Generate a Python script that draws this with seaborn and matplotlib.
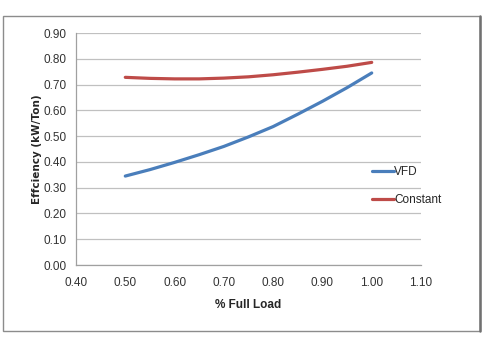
import matplotlib
matplotlib.use("Agg")
import matplotlib.pyplot as plt
import seaborn as sns
import pandas as pd
from matplotlib.patches import Rectangle
from matplotlib.lines import Line2D

load = [0.50, 0.55, 0.60, 0.65, 0.70, 0.75, 0.80, 0.85, 0.90, 0.95, 1.00]
vfd = [0.345, 0.370, 0.398, 0.428, 0.460, 0.497, 0.537, 0.585, 0.635, 0.688, 0.745]
constant = [0.728, 0.724, 0.722, 0.722, 0.725, 0.730, 0.738, 0.748, 0.759, 0.771, 0.786]
series_names = ["VFD", "Constant"]
colors = ["#4a7ebb", "#be4b48"]
x_ticks = [0.40, 0.50, 0.60, 0.70, 0.80, 0.90, 1.00, 1.10]
y_ticks = [0.00, 0.10, 0.20, 0.30, 0.40, 0.50, 0.60, 0.70, 0.80, 0.90]

df = pd.concat([
    pd.DataFrame({"load": load, "eff": vfd, "series": series_names[0]}),
    pd.DataFrame({"load": load, "eff": constant, "series": series_names[1]}),
])

sns.set_style("white")
plt.rcParams['font.family'] = ['Liberation Sans', 'DejaVu Sans']

fig = plt.figure(figsize=(4.85, 3.5), dpi=100)
fig.patches.append(Rectangle((3/485, 1-331/350), (480-3)/485, (331-16)/350,
                             transform=fig.transFigure, fill=False,
                             edgecolor="#8c8c8c", linewidth=1.0))
fig.lines.append(Line2D([480/485, 480/485], [1-331/350, 1-16/350],
                        transform=fig.transFigure, color="#707070", linewidth=1.8))
ax = fig.add_axes([76/485, 1-265/350, (421-76)/485, (265-33)/350])

sns.lineplot(data=df, x="load", y="eff", hue="series", palette=colors,
             linewidth=2.3, ax=ax, legend=True, sort=True)

ax.set_xlim(0.40, 1.10)
ax.set_ylim(0.0, 0.90)
ax.set_xticks(x_ticks)
ax.set_yticks(y_ticks)
ax.set_xticklabels([f"{t:.2f}" for t in x_ticks], fontsize=8.5, color="#333333")
ax.set_yticklabels([f"{t:.2f}" for t in y_ticks], fontsize=8.5, color="#333333")
ax.yaxis.grid(True, color="#c0c0c0", linewidth=0.9)
ax.xaxis.grid(False)
for s in ["top", "right"]:
    ax.spines[s].set_visible(False)
for s in ["left", "bottom"]:
    ax.spines[s].set_color("#a0a0a0")
    ax.spines[s].set_linewidth(0.9)
ax.tick_params(axis="x", which="major", direction="out", length=4, color="#a0a0a0", pad=5)
ax.tick_params(axis="y", which="major", direction="out", length=4, color="#a0a0a0", pad=3)
ax.set_xlabel("% Full Load", fontsize=8.5, fontweight="bold", labelpad=7)
ax.set_ylabel("Effciency (kW/Ton)", fontsize=7.5, fontweight="bold", labelpad=1,
              family=['DejaVu Sans'])

handles, labels = ax.get_legend_handles_labels()
leg = ax.legend(handles, labels, loc="center left", frameon=False,
                bbox_to_anchor=(361/485, 1-186/350), bbox_transform=fig.transFigure,
                fontsize=8.5, handlelength=1.9, handletextpad=0.0, labelspacing=1.3)

fig.savefig("out.png", dpi=100)
